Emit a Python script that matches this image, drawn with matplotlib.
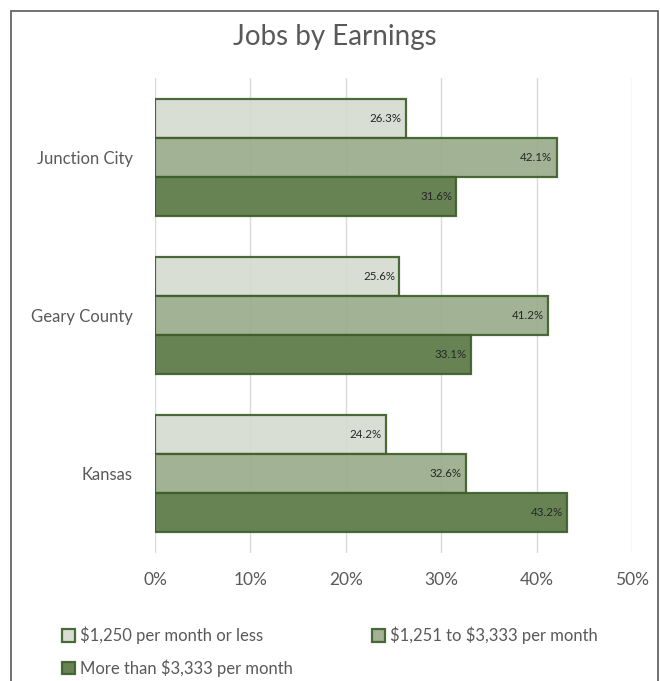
import numpy as np
import matplotlib.pyplot as plt
from matplotlib.patches import Rectangle

plt.rcParams['font.family'] = ['Lato', 'DejaVu Sans']
plt.rcParams['text.parse_math'] = False

places = ["Junction City", "Geary County", "Kansas"]
series_names = ["$1,250 per month or less",
                "$1,251 to $3,333 per month",
                "More than $3,333 per month"]
low_pay = [26.3, 25.6, 24.2]
mid_pay = [42.1, 41.2, 32.6]
high_pay = [31.6, 33.1, 43.2]
x_ticks = [0, 10, 20, 30, 40, 50]

fills = ["#d6dcd2", "#9aad8c", "#5b7a47"]
edge = "#3e5f2b"
W, H = 660, 681

fig = plt.figure(figsize=(W / 100, H / 100), dpi=100)
ax = fig.add_axes([155 / W, 1 - 553 / H, (632 - 155) / W, (553 - 78) / H])

y = np.arange(len(places))
h = 0.246
for i, (vals, col, name) in enumerate(zip([low_pay, mid_pay, high_pay], fills, series_names)):
    pos = y + (i - 1) * h
    bars = ax.barh(pos, vals, height=h, color=col, alpha=0.93,
                   edgecolor=edge, linewidth=1.6, label=name, zorder=3)
    for b, v in zip(bars, vals):
        ax.text(v - 0.45, b.get_y() + b.get_height() / 2, f"{v:.1f}%",
                ha="right", va="center", fontsize=8.3, color="#262626", zorder=4)

ax.set_ylim(2.5, -0.5)
ax.set_xlim(0, 50)
ax.set_xticks(x_ticks)
ax.set_xticklabels([f"{t}%" for t in x_ticks], fontsize=12.5, color="#595959")
ax.set_yticks(y)
ax.set_yticklabels(places, fontsize=12, color="#595959")
ax.tick_params(axis="y", length=0, pad=16)
ax.tick_params(axis="x", length=0, pad=14)
ax.grid(axis="x", color="#d9d9d9", linewidth=1, zorder=0)
for s in ax.spines.values():
    s.set_visible(False)

fig.text(335 / W, 1 - 37 / H, "Jobs by Earnings", ha="center", va="center",
         fontsize=20, color="#595959")

# two columns filled row by row: low, mid on top, high below
handles, labels = ax.get_legend_handles_labels()
order = [0, 2, 1]
fig.legend([handles[k] for k in order], [labels[k] for k in order],
           loc="upper left", bbox_to_anchor=(55 / W, 1 - 620 / H),
           ncol=2, frameon=False, fontsize=12, labelcolor="#595959",
           handlelength=0.8, handleheight=0.8, handletextpad=0.3,
           columnspacing=4.75, borderaxespad=0, labelspacing=0.9)

fig.add_artist(Rectangle((11 / W, -0.05), (658 - 11) / W, 1.05 - 11 / H,
                         transform=fig.transFigure, fill=False,
                         edgecolor="#595959", linewidth=1.2))

fig.savefig("out.png", dpi=100)
